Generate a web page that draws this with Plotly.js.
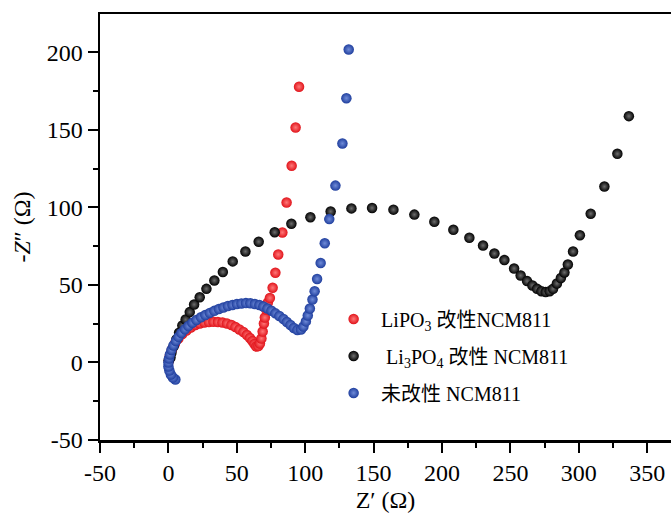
<!DOCTYPE html>
<html>
<head>
<meta charset="utf-8">
<script src="https://cdn.plot.ly/plotly-3.0.1.min.js"></script>
<style>
  html, body { margin: 0; padding: 0; background: #fff; }
  #chart { width: 671px; height: 516px; }
</style>
</head>
<body>
<div id="chart"></div>
<script>
// ---- Data ----
const seriesNames = ["LiPO<sub>3</sub> 改性NCM811", "\u00a0Li<sub>3</sub>PO<sub>4</sub> 改性 NCM811", "未改性 NCM811"];

const redX = [0.4, 1.1, 2.6, 4.8, 7.3, 10.2, 13.2, 16.4, 19.7, 23.0, 26.3, 29.6, 32.9, 36.2, 39.5, 42.8, 46.1, 49.0, 51.9, 54.8, 57.4, 59.6, 61.4, 62.9, 64.3, 65.8, 66.9, 68.0, 68.9, 69.8, 70.5, 71.6, 72.7, 74.2, 76.2, 78.2, 80.3, 83.3, 86.4, 90.1, 93.0, 95.5];
const redY = [1.3, 4.5, 8.4, 12.3, 15.5, 18.4, 20.6, 22.6, 24.2, 25.2, 25.8, 26.1, 26.3, 26.1, 25.8, 25.2, 24.2, 22.9, 21.3, 19.7, 17.7, 15.8, 13.9, 11.9, 10.3, 10.6, 12.3, 15.5, 20.0, 25.2, 29.0, 34.2, 38.7, 41.6, 48.2, 57.9, 69.7, 83.9, 103.2, 126.9, 151.6, 177.9];

const blackX = [0.2, 0.7, 1.5, 2.2, 3.9, 5.8, 7.8, 10.2, 12.6, 15.6, 18.8, 22.9, 27.8, 33.6, 39.8, 47.0, 56.3, 66.0, 77.7, 89.9, 103.8, 118.6, 133.8, 148.9, 164.5, 179.8, 194.4, 208.3, 220.0, 230.0, 238.3, 245.6, 252.7, 257.5, 262.2, 266.1, 269.5, 272.7, 275.8, 278.7, 281.2, 284.0, 286.9, 289.5, 292.0, 295.8, 300.8, 308.7, 318.7, 328.2, 336.6];
const blackY = [1.3, 2.3, 3.2, 6.3, 10.5, 14.8, 19.2, 23.9, 27.7, 32.5, 37.4, 42.1, 47.5, 52.9, 58.4, 65.2, 71.6, 77.9, 84.0, 89.5, 93.7, 97.4, 99.4, 99.7, 98.6, 95.4, 90.8, 85.6, 80.5, 75.5, 70.3, 66.1, 60.6, 56.1, 52.5, 49.7, 47.5, 46.0, 45.4, 46.0, 47.5, 51.0, 54.5, 58.1, 63.2, 71.6, 82.1, 96.0, 113.5, 134.6, 158.9];

const blueX = [5.1, 3.3, 1.8, 0.7, 0.0, 0.0, 0.4, 1.1, 2.2, 3.7, 5.5, 7.3, 9.5, 12.1, 14.6, 17.5, 20.5, 23.8, 27.0, 30.3, 33.6, 36.9, 40.2, 43.5, 46.8, 50.1, 53.4, 56.7, 59.9, 63.2, 66.5, 69.4, 72.4, 75.3, 78.2, 81.1, 84.1, 86.6, 89.2, 91.7, 94.3, 96.9, 98.7, 100.5, 101.9, 103.4, 105.3, 106.9, 108.7, 111.3, 114.3, 117.6, 122.1, 127.2, 130.1, 131.8];
const blueY = [-11.0, -9.7, -7.7, -5.2, -2.6, 0.0, 2.6, 5.2, 8.1, 11.0, 13.9, 16.5, 19.0, 21.4, 23.5, 25.6, 27.4, 29.2, 30.6, 32.0, 33.3, 34.5, 35.5, 36.4, 37.1, 37.7, 38.1, 38.3, 38.2, 37.7, 37.1, 36.1, 34.8, 33.4, 31.7, 30.0, 28.1, 26.1, 24.2, 22.3, 21.0, 21.3, 23.2, 26.5, 30.3, 34.8, 40.6, 46.0, 53.9, 64.2, 76.9, 92.5, 114.1, 141.3, 170.5, 201.9];

const xTickVals = [-50, 0, 50, 100, 150, 200, 250, 300, 350];
const xTickText = ["-50", "0", "50", "100", "150", "200", "250", "300", "350"];
const yTickVals = [-50, 0, 50, 100, 150, 200];
const yTickText = ["-50", "0", "50", "100", "150", "200"];

// ---- Styling ----
const serif = 'Liberation Serif, Times New Roman, Noto Sans CJK SC, serif';

function ballTrace(x, y, name, edge, center, group) {
  return {
    type: 'scatter', mode: 'markers', x: x, y: y, name: name,
    legendgroup: group,
    marker: {
      size: 10.5, color: edge, line: {width: 0},
      gradient: {type: 'radial', color: center}
    },
    hoverinfo: 'x+y'
  };
}

const data = [
  ballTrace(redX, redY, seriesNames[0], '#e1141b', '#ff7878', 'g1'),
  ballTrace(blackX, blackY, seriesNames[1], '#000000', '#6e6e6e', 'g2'),
  ballTrace(blueX, blueY, seriesNames[2], '#203f9e', '#6f8bd8', 'g3')
];

const axisCommon = {
  showgrid: false, zeroline: false,
  showline: true, linecolor: '#000', linewidth: 2.5,
  ticks: 'outside', ticklen: 10, tickwidth: 2, tickcolor: '#000',
  tickfont: {family: serif, size: 24, color: '#000'},
  minor: {ticks: 'outside', ticklen: 5, tickwidth: 2, tickcolor: '#000', dtick: 25, showgrid: false}
};

const layout = {
  width: 671, height: 516,
  margin: {l: 100, r: 0, t: 14, b: 76},
  paper_bgcolor: '#fff', plot_bgcolor: '#fff',
  showlegend: true,
  xaxis: Object.assign({}, axisCommon, {
    range: [-50, 367.4], tickmode: 'array', tickvals: xTickVals, ticktext: xTickText, mirror: true,
    title: {text: 'Z′ (Ω)', font: {family: serif, size: 24, color: '#000'}, standoff: 6}
  }),
  yaxis: Object.assign({}, axisCommon, {
    range: [-50, 224.8], tickmode: 'array', tickvals: yTickVals, ticktext: yTickText,
    title: {text: '-<i>Z</i>″ (Ω)', font: {family: serif, size: 24, color: '#000'}, standoff: 10}
  }),
  legend: {
    x: 0.396, y: 0.33, xanchor: 'left', yanchor: 'top',
    bgcolor: 'rgba(0,0,0,0)', borderwidth: 0,
    font: {family: serif, size: 20, color: '#000'},
    tracegroupgap: 8, itemwidth: 45
  }
};

Plotly.newPlot('chart', data, layout, {displayModeBar: false, staticPlot: true});
</script>
</body>
</html>
